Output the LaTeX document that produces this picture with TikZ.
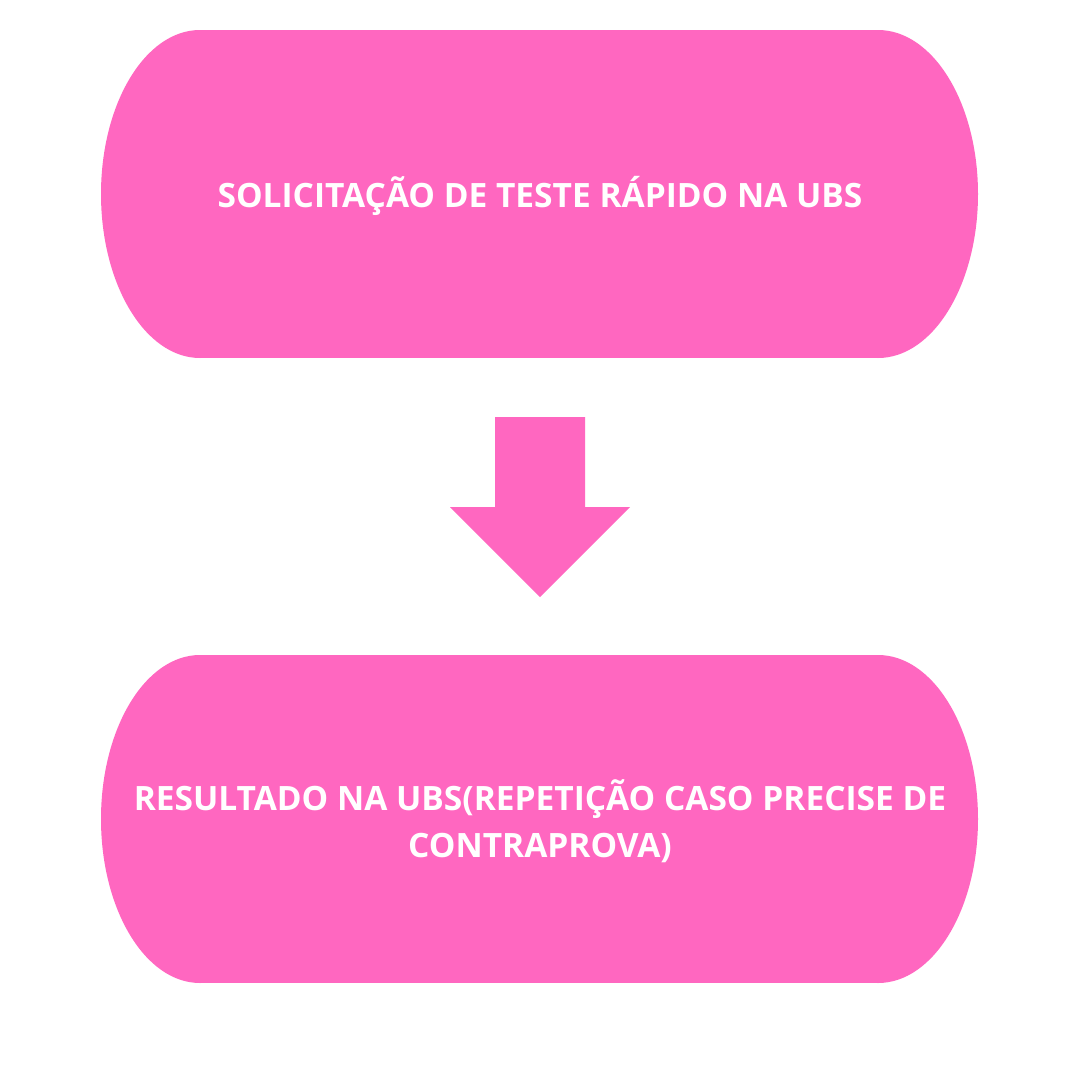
\documentclass[tikz,border=0pt]{standalone}
\usepackage{fontspec}
\setmainfont{Open Sans}
\definecolor{pinkfill}{RGB}{255,103,192}
\begin{document}
\begin{tikzpicture}[x=1pt,y=-1pt,
  lbl/.style={text=white,font=\fontsize{33.5}{47}\selectfont\bfseries,align=center}]
\useasboundingbox (0,0) rectangle (1080,1080);
\fill[white] (0,0) rectangle (1080,1080);
% top stadium
\fill[pinkfill] (200,30) rectangle (878,358);
\fill[pinkfill] (200,194) ellipse[x radius=99,y radius=164];
\fill[pinkfill] (878,194) ellipse[x radius=100,y radius=164];
\node[lbl] (top) at (540,196) {SOLICITAÇÃO DE TESTE RÁPIDO NA UBS};
% arrow
\fill[pinkfill] (495,417) -- (585,417) -- (585,507) -- (630,507) -- (540,597) -- (450,507) -- (495,507) -- cycle;
\coordinate (arr) at (540,507);
% bottom stadium
\fill[pinkfill] (200,655) rectangle (878,983);
\fill[pinkfill] (200,819) ellipse[x radius=99,y radius=164];
\fill[pinkfill] (878,819) ellipse[x radius=100,y radius=164];
\node[lbl] (bot) at (540,821) {RESULTADO NA UBS(REPETIÇÃO CASO PRECISE DE\\CONTRAPROVA)};
\end{tikzpicture}
\end{document}
